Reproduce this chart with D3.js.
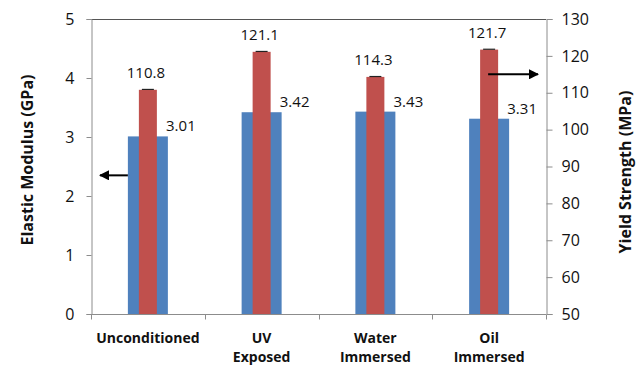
<!DOCTYPE html>
<html>
<head>
<meta charset="utf-8">
<script src="https://cdn.jsdelivr.net/npm/d3@7"></script>
<style>
  body { margin: 0; background: #fff; }
  svg { display: block; font-family: "Open Sans", sans-serif; }
</style>
</head>
<body>
<svg id="chart" width="637" height="367"></svg>
<script>
const categories = [["Unconditioned"], ["UV", "Exposed"], ["Water", "Immersed"], ["Oil", "Immersed"]];
const modulus = [3.01, 3.42, 3.43, 3.31];
const strength = [110.8, 121.1, 114.3, 121.7];
const strengthErr = [0.1, 0.1, 0.1, 0.1];
const leftTicks = [0, 1, 2, 3, 4, 5];
const rightTicks = [50, 60, 70, 80, 90, 100, 110, 120, 130];

const width = 637, height = 367;
const margin = { top: 19, right: 91, bottom: 53, left: 91 };
const svg = d3.select("#chart");

const x = d3.scaleBand()
  .domain(d3.range(categories.length))
  .range([margin.left, width - margin.right]);

const yL = d3.scaleLinear().domain([0, 5]).range([height - margin.bottom, margin.top]);
const yR = d3.scaleLinear().domain([50, 130]).range([height - margin.bottom, margin.top]);

const blueW = 40, redW = 18;
const axisColor = "#8c8c8c";

// blue bars (elastic modulus, left axis)
svg.append("g").selectAll("rect")
  .data(modulus)
  .join("rect")
  .attr("x", (d, i) => x(i) + x.bandwidth() / 2 - blueW / 2)
  .attr("y", d => yL(d))
  .attr("width", blueW)
  .attr("height", d => yL(0) - yL(d))
  .attr("fill", "#4f81bd");

// red bars (yield strength, right axis)
svg.append("g").selectAll("rect")
  .data(strength)
  .join("rect")
  .attr("x", (d, i) => x(i) + x.bandwidth() / 2 - redW / 2)
  .attr("y", d => yR(d))
  .attr("width", redW)
  .attr("height", d => yR(50) - yR(d))
  .attr("fill", "#c0504d");

// error bars (very small)
const eb = svg.append("g").attr("stroke", "#222").attr("stroke-width", 1.2);
strength.forEach((d, i) => {
  const cx = x(i) + x.bandwidth() / 2;
  eb.append("line")
    .attr("x1", cx - 6).attr("x2", cx + 6)
    .attr("y1", yR(d + strengthErr[i])).attr("y2", yR(d + strengthErr[i]));
});

// value labels
svg.append("g").selectAll("text")
  .data(strength)
  .join("text")
  .attr("x", (d, i) => x(i) + x.bandwidth() / 2 - 2)
  .attr("y", d => yR(d) - 12)
  .attr("text-anchor", "middle")
  .attr("font-size", 15)
  .attr("fill", "#111")
  .text(d => d.toFixed(1));

svg.append("g").selectAll("text")
  .data(modulus)
  .join("text")
  .attr("x", (d, i) => x(i) + x.bandwidth() / 2 + 33)
  .attr("y", d => yL(d) - 5)
  .attr("text-anchor", "middle")
  .attr("font-size", 15)
  .attr("fill", "#111")
  .text(d => d.toFixed(2));

// frame top line
svg.append("line")
  .attr("x1", margin.left).attr("x2", width - margin.right)
  .attr("y1", margin.top + 0.5).attr("y2", margin.top + 0.5)
  .attr("stroke", "#555");

// axes
const leftAxis = svg.append("g")
  .attr("transform", `translate(${margin.left + 0.5},0)`)
  .call(d3.axisLeft(yL).tickValues(leftTicks).tickFormat(d3.format("d")).tickSize(5).tickPadding(12));

const rightAxis = svg.append("g")
  .attr("transform", `translate(${width - margin.right + 0.5},0)`)
  .call(d3.axisRight(yR).tickValues(rightTicks).tickFormat(d3.format("d")).tickSize(6).tickPadding(9));

const bottomAxis = svg.append("g")
  .attr("transform", `translate(0,${height - margin.bottom + 0.5})`);
bottomAxis.append("line")
  .attr("x1", margin.left).attr("x2", width - margin.right)
  .attr("stroke", axisColor);
bottomAxis.selectAll(".tk")
  .data(d3.range(categories.length + 1))
  .join("line")
  .attr("x1", i => Math.round(margin.left + i * x.step()) + 0.5)
  .attr("x2", i => Math.round(margin.left + i * x.step()) + 0.5)
  .attr("y1", 0).attr("y2", 5)
  .attr("stroke", axisColor);

[leftAxis, rightAxis].forEach(g => {
  g.select(".domain").attr("stroke", axisColor);
  g.selectAll(".tick line").attr("stroke", axisColor);
  g.selectAll(".tick text")
    .attr("font-size", 16)
    .attr("font-family", "Open Sans, sans-serif")
    .attr("fill", "#111");
});

// category labels
const catG = svg.append("g")
  .attr("font-weight", "bold")
  .attr("font-size", 14)
  .attr("text-anchor", "middle")
  .attr("fill", "#111");
categories.forEach((lines, i) => {
  const t = catG.append("text")
    .attr("x", x(i) + x.bandwidth() / 2)
    .attr("y", 343);
  lines.forEach((s, j) => {
    t.append("tspan")
      .attr("x", x(i) + x.bandwidth() / 2)
      .attr("dy", j === 0 ? 0 : 19)
      .text(s);
  });
});

// axis titles
svg.append("text")
  .attr("transform", "translate(33,160) rotate(-90)")
  .attr("text-anchor", "middle")
  .attr("font-weight", "bold")
  .attr("font-size", 16)
  .attr("fill", "#111")
  .text("Elastic Modulus (GPa)");

svg.append("text")
  .attr("transform", "translate(631,172) rotate(-90)")
  .attr("text-anchor", "middle")
  .attr("font-weight", "bold")
  .attr("font-size", 16)
  .attr("fill", "#111")
  .text("Yield Strength (MPa)");

// arrows pointing to each axis
const defs = svg.append("defs");
defs.append("marker")
  .attr("id", "head")
  .attr("viewBox", "0 0 10 10")
  .attr("refX", 9).attr("refY", 5)
  .attr("markerWidth", 5).attr("markerHeight", 5)
  .attr("orient", "auto")
  .append("path")
  .attr("d", "M0,0 L10,5 L0,10 z")
  .attr("fill", "#000");

svg.append("line")
  .attr("x1", x(0) + x.bandwidth() / 2 - blueW / 2).attr("x2", 100)
  .attr("y1", yL(2.35)).attr("y2", yL(2.35))
  .attr("stroke", "#000").attr("stroke-width", 2)
  .attr("marker-end", "url(#head)");

svg.append("line")
  .attr("x1", x(3) + x.bandwidth() / 2 - 1).attr("x2", 538)
  .attr("y1", yR(115)).attr("y2", yR(115))
  .attr("stroke", "#000").attr("stroke-width", 2)
  .attr("marker-end", "url(#head)");
</script>
</body>
</html>
